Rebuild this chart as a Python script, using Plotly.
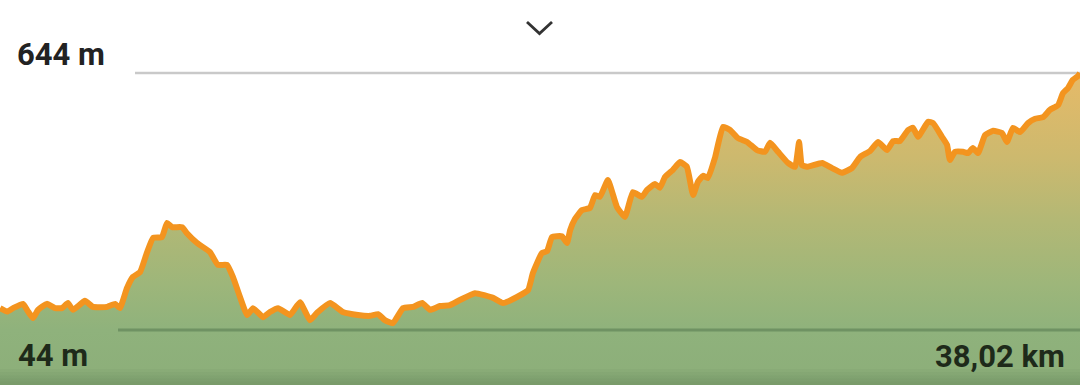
import plotly.graph_objects as go

# Elevation profile data (distance in km, elevation in m)
distance_km = [
    0.00, 0.25, 0.46, 0.81, 0.99, 1.16, 1.34, 1.65, 1.94, 2.18,
    2.39, 2.57, 2.99, 3.27, 3.77, 4.05, 4.22, 4.47, 4.68, 4.93,
    5.17, 5.39, 5.70, 5.88, 6.06, 6.41, 6.58, 6.94, 7.39, 7.67,
    7.99, 8.20, 8.45, 8.70, 8.91, 9.26, 9.50, 9.79, 10.21, 10.56,
    10.91, 11.16, 11.62, 12.07, 12.60, 13.03, 13.31, 13.55, 13.83, 14.19,
    14.54, 14.86, 15.14, 15.49, 15.84, 16.19, 16.72, 17.36, 17.71, 18.20,
    18.59, 18.76, 19.08, 19.26, 19.43, 19.78, 19.96, 20.07, 20.24, 20.49,
    20.77, 20.95, 21.12, 21.40, 21.72, 22.00, 22.28, 22.60, 22.78, 23.06,
    23.23, 23.41, 23.69, 23.94, 24.18, 24.40, 24.57, 24.75, 24.92, 25.17,
    25.45, 25.70, 25.98, 26.30, 26.65, 26.93, 27.11, 27.39, 27.74, 27.99,
    28.13, 28.23, 28.41, 28.94, 29.29, 29.64, 29.99, 30.28, 30.63, 30.91,
    31.23, 31.44, 31.68, 31.97, 32.14, 32.32, 32.67, 32.85, 33.16, 33.34,
    33.44, 33.62, 33.90, 34.08, 34.25, 34.43, 34.68, 34.96, 35.27, 35.45,
    35.66, 35.91, 36.19, 36.44, 36.72, 36.96, 37.25, 37.42, 37.60, 37.77,
    37.95, 38.02,
]
elevation_m = [
    95, 87, 95, 105, 87, 72, 91, 105, 95, 95,
    107, 91, 112, 98, 98, 105, 95, 142, 168, 179,
    224, 259, 261, 294, 284, 284, 270, 247, 226, 196,
    196, 168, 121, 79, 95, 74, 86, 95, 79, 109,
    67, 84, 107, 86, 79, 77, 81, 67, 60, 95,
    98, 107, 91, 100, 102, 114, 130, 119, 107, 121,
    137, 177, 224, 228, 261, 263, 247, 277, 303, 324,
    329, 359, 355, 394, 331, 308, 366, 355, 371, 385,
    376, 401, 418, 436, 425, 359, 390, 404, 399, 446,
    518, 511, 492, 483, 464, 460, 481, 460, 434, 425,
    483, 429, 425, 434, 422, 411, 422, 448, 462, 483,
    464, 485, 485, 511, 516, 495, 530, 527, 495, 476,
    441, 460, 460, 457, 469, 457, 499, 509, 504, 483,
    516, 506, 527, 537, 541, 558, 569, 597, 609, 628,
    637, 644,
]

max_label = "644 m"
min_label = "44 m"
dist_label = "38,02 km"
ELEV_MAX = 644
ELEV_MIN = 44
TOTAL_KM = 38.02

W, H = 1080, 385
# y axis range so that 644 m sits at y=73 px and 44 m at y=330 px
m_per_px = (ELEV_MAX - ELEV_MIN) / (330 - 73)
Y_TOP = ELEV_MAX + 73 * m_per_px
Y_BOT = Y_TOP - H * m_per_px

fig = go.Figure()

# invisible baseline at bottom of plot for the fill
fig.add_trace(go.Scatter(
    x=distance_km, y=[Y_BOT] * len(distance_km),
    mode="lines", line=dict(width=0), hoverinfo="skip", showlegend=False,
))

fig.add_trace(go.Scatter(
    x=distance_km, y=elevation_m,
    mode="lines",
    line=dict(color="#f3941f", width=6, shape="spline", smoothing=0.4),
    fill="tonexty",
    fillgradient=dict(
        type="vertical",
        start=Y_BOT, stop=ELEV_MAX,
        colorscale=[
            [0.0, "#8cae79"],
            [0.176, "#8fb27c"],
            [0.32, "#9db67a"],
            [0.527, "#b3b875"],
            [0.733, "#cdb96e"],
            [1.0, "#e6ba68"],
        ],
    ),
    hoverinfo="skip", showlegend=False,
))

shapes = []
# top reference line (max elevation)
shapes.append(dict(type="line", xref="paper", yref="y",
                   x0=135 / W, x1=1, y0=ELEV_MAX, y1=ELEV_MAX,
                   line=dict(color="#c9c9c9", width=2.5), layer="below"))
# bottom reference line (min elevation)
shapes.append(dict(type="line", xref="paper", yref="y",
                   x0=118 / W, x1=1, y0=ELEV_MIN, y1=ELEV_MIN,
                   line=dict(color="#6f9263", width=3), layer="above"))
# subtle bottom shadow
for k in range(1, 6):
    shapes.append(dict(type="rect", xref="paper", yref="paper",
                       x0=0, x1=1, y0=0, y1=k * 3.2 / H,
                       fillcolor="rgba(40,60,30,0.03)", line=dict(width=0),
                       layer="above"))
# chevron icon
shapes.append(dict(type="path", xref="paper", yref="paper",
                   path=f"M {527/W} {1-22/H} L {539.5/W} {1-33.5/H} L {552/W} {1-22/H}",
                   line=dict(color="#333333", width=2.8)))

annotations = [
    dict(text=f"<b>{max_label}</b>", xref="paper", yref="paper",
         x=15 / W, y=1 - 55 / H, xanchor="left", yanchor="middle",
         showarrow=False, font=dict(family="Roboto", size=31, color="#222222")),
    dict(text=f"<b>{min_label}</b>", xref="paper", yref="paper",
         x=16 / W, y=1 - 355 / H, xanchor="left", yanchor="middle",
         showarrow=False, font=dict(family="Roboto", size=31, color="#1e2a1a")),
    dict(text=f"<b>{dist_label}</b>", xref="paper", yref="paper",
         x=1067 / W, y=1 - 356 / H, xanchor="right", yanchor="middle",
         showarrow=False, font=dict(family="Roboto", size=31, color="#1e2a1a")),
]

fig.update_layout(
    width=W, height=H,
    margin=dict(l=0, r=0, t=0, b=0),
    paper_bgcolor="white", plot_bgcolor="white",
    xaxis=dict(range=[0, TOTAL_KM], visible=False, fixedrange=True),
    yaxis=dict(range=[Y_BOT, Y_TOP], visible=False, fixedrange=True),
    shapes=shapes, annotations=annotations,
    showlegend=False,
)

fig.write_html("out.html", config={"displayModeBar": False})
